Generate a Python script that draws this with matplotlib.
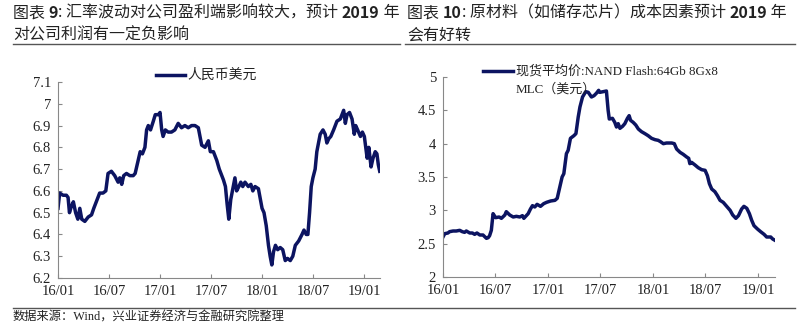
import matplotlib.pyplot as plt
import numpy as np
import pandas as pd
from matplotlib.lines import Line2D

# 人民币兑美元汇率
fx_dates = [
    '2016-01-01', '2016-01-07', '2016-01-19', '2016-01-31', '2016-02-06', '2016-02-11',
    '2016-02-18', '2016-02-25', '2016-03-04', '2016-03-12', '2016-03-19', '2016-03-26',
    '2016-04-06', '2016-04-18', '2016-04-30', '2016-05-08', '2016-05-17', '2016-05-29',
    '2016-06-10', '2016-06-20', '2016-06-28', '2016-07-10', '2016-07-22', '2016-08-03',
    '2016-08-09', '2016-08-16', '2016-08-23', '2016-09-02', '2016-09-14', '2016-09-26',
    '2016-10-03', '2016-10-14', '2016-10-21', '2016-10-29', '2016-11-07', '2016-11-13',
    '2016-11-19', '2016-11-27', '2016-12-07', '2016-12-14', '2016-12-25', '2016-12-31',
    '2017-01-06', '2017-01-11', '2017-01-19', '2017-01-29', '2017-02-10', '2017-02-22',
    '2017-03-06', '2017-03-18', '2017-03-30', '2017-04-11', '2017-04-23', '2017-05-05',
    '2017-05-17', '2017-05-23', '2017-05-29', '2017-06-10', '2017-06-22', '2017-06-29',
    '2017-07-10', '2017-07-22', '2017-07-31', '2017-08-09', '2017-08-15', '2017-08-22',
    '2017-08-28', '2017-09-03', '2017-09-10', '2017-09-19', '2017-09-25', '2017-10-01',
    '2017-10-09', '2017-10-16', '2017-10-23', '2017-10-31', '2017-11-12', '2017-11-21',
    '2017-11-28', '2017-12-06', '2017-12-18', '2017-12-25', '2017-12-31', '2018-01-07',
    '2018-01-15', '2018-01-23', '2018-01-29', '2018-02-04', '2018-02-10', '2018-02-17',
    '2018-02-25', '2018-03-06', '2018-03-15', '2018-03-24', '2018-04-01', '2018-04-11',
    '2018-04-20', '2018-04-29', '2018-05-11', '2018-05-23', '2018-05-30', '2018-06-07',
    '2018-06-13', '2018-06-19', '2018-06-25', '2018-07-01', '2018-07-09', '2018-07-15',
    '2018-07-21', '2018-07-27', '2018-08-06', '2018-08-14', '2018-08-20', '2018-08-27',
    '2018-09-03', '2018-09-13', '2018-09-25', '2018-10-07', '2018-10-19', '2018-10-25',
    '2018-10-31', '2018-11-09', '2018-11-18', '2018-11-26', '2018-12-01', '2018-12-08',
    '2018-12-18', '2018-12-25', '2019-01-01', '2019-01-06', '2019-01-11', '2019-01-17',
    '2019-01-25', '2019-02-01', '2019-02-09', '2019-02-15', '2019-02-20', '2019-02-25',
]
fx_values = [
    6.52, 6.59, 6.58, 6.58, 6.57, 6.50,
    6.53, 6.55, 6.50, 6.47, 6.52, 6.47,
    6.46, 6.48, 6.49, 6.52, 6.55, 6.59,
    6.59, 6.60, 6.68, 6.69, 6.67, 6.64,
    6.66, 6.63, 6.67, 6.68, 6.67, 6.67,
    6.68, 6.74, 6.78, 6.77, 6.80, 6.88,
    6.90, 6.88, 6.92, 6.95, 6.95, 6.96,
    6.88, 6.85, 6.88, 6.87, 6.87, 6.88,
    6.91, 6.89, 6.90, 6.89, 6.90, 6.90,
    6.89, 6.85, 6.81, 6.80, 6.83, 6.78,
    6.78, 6.74, 6.70, 6.67, 6.65, 6.62,
    6.54, 6.47, 6.56, 6.62, 6.66, 6.60,
    6.62, 6.64, 6.62, 6.64, 6.62, 6.63,
    6.60, 6.62, 6.61, 6.56, 6.52, 6.50,
    6.44, 6.35, 6.30, 6.26, 6.32, 6.35,
    6.33, 6.34, 6.33, 6.28, 6.29, 6.28,
    6.30, 6.35, 6.37, 6.40, 6.42, 6.40,
    6.40, 6.50, 6.62, 6.66, 6.70, 6.78,
    6.82, 6.86, 6.88, 6.86, 6.82, 6.84,
    6.85, 6.88, 6.92, 6.93, 6.97, 6.91,
    6.95, 6.96, 6.93, 6.86, 6.90, 6.88,
    6.85, 6.87, 6.85, 6.80, 6.75, 6.80,
    6.71, 6.75, 6.78, 6.77, 6.72, 6.69,
]

# NAND Flash 64Gb 8Gx8 MLC 现货平均价（美元）
nand_dates = [
    '2016-01-01', '2016-01-07', '2016-01-18', '2016-01-24', '2016-02-05', '2016-02-16',
    '2016-02-28', '2016-03-08', '2016-03-16', '2016-03-22', '2016-04-03', '2016-04-12',
    '2016-04-20', '2016-04-28', '2016-05-08', '2016-05-19', '2016-05-31', '2016-06-06',
    '2016-06-11', '2016-06-17', '2016-06-23', '2016-07-02', '2016-07-14', '2016-07-22',
    '2016-08-03', '2016-08-08', '2016-08-20', '2016-09-01', '2016-09-12', '2016-09-24',
    '2016-10-03', '2016-10-08', '2016-10-23', '2016-10-31', '2016-11-07', '2016-11-15',
    '2016-11-23', '2016-12-05', '2016-12-16', '2016-12-26', '2017-01-09', '2017-01-24',
    '2017-02-01', '2017-02-10', '2017-02-18', '2017-02-24', '2017-03-05', '2017-03-11',
    '2017-03-19', '2017-03-31', '2017-04-07', '2017-04-15', '2017-04-21', '2017-04-30',
    '2017-05-11', '2017-05-20', '2017-05-31', '2017-06-09', '2017-06-18', '2017-06-25',
    '2017-06-29', '2017-07-11', '2017-07-22', '2017-07-28', '2017-08-01', '2017-08-12',
    '2017-08-20', '2017-08-26', '2017-09-01', '2017-09-07', '2017-09-16', '2017-09-24',
    '2017-10-03', '2017-10-09', '2017-10-14', '2017-10-23', '2017-11-01', '2017-11-10',
    '2017-11-21', '2017-12-03', '2017-12-14', '2017-12-26', '2018-01-07', '2018-01-18',
    '2018-01-26', '2018-02-05', '2018-02-16', '2018-03-06', '2018-03-15', '2018-03-23',
    '2018-04-04', '2018-04-15', '2018-04-27', '2018-05-04', '2018-05-08', '2018-05-14',
    '2018-05-26', '2018-06-06', '2018-06-18', '2018-06-30', '2018-07-08', '2018-07-15',
    '2018-07-23', '2018-08-03', '2018-08-12', '2018-08-21', '2018-09-01', '2018-09-13',
    '2018-09-25', '2018-10-04', '2018-10-15', '2018-10-24', '2018-11-04', '2018-11-12',
    '2018-11-22', '2018-12-01', '2018-12-09', '2018-12-17', '2018-12-29', '2019-01-09',
    '2019-01-21', '2019-01-30', '2019-02-13', '2019-02-20', '2019-02-28',
]
nand_values = [
    2.60, 2.65, 2.66, 2.68, 2.69, 2.69,
    2.70, 2.68, 2.67, 2.69, 2.66, 2.66,
    2.64, 2.66, 2.63, 2.63, 2.58, 2.59,
    2.62, 2.70, 2.95, 2.89, 2.90, 2.88,
    2.93, 2.98, 2.93, 2.90, 2.91, 2.90,
    2.92, 2.88, 2.95, 3.02, 3.07, 3.05,
    3.09, 3.06, 3.10, 3.12, 3.14, 3.15,
    3.18, 3.35, 3.50, 3.55, 3.85, 3.90,
    4.08, 4.12, 4.15, 4.40, 4.55, 4.70,
    4.78, 4.77, 4.70, 4.72, 4.76, 4.80,
    4.77, 4.78, 4.79, 4.50, 4.37, 4.38,
    4.32, 4.25, 4.30, 4.23, 4.26, 4.30,
    4.38, 4.42, 4.35, 4.32, 4.28, 4.22,
    4.18, 4.15, 4.12, 4.08, 4.06, 4.05,
    4.03, 4.00, 4.01, 4.01, 4.00, 3.92,
    3.87, 3.84, 3.80, 3.78, 3.70, 3.72,
    3.68, 3.64, 3.61, 3.60, 3.52, 3.40,
    3.32, 3.28, 3.22, 3.15, 3.12, 3.06,
    3.00, 2.93, 2.88, 2.92, 3.02, 3.06,
    3.03, 2.95, 2.85, 2.77, 2.72, 2.68,
    2.64, 2.60, 2.60, 2.57, 2.55,
]

tick_dates = ['2016-01-01', '2016-07-01', '2017-01-01', '2017-07-01',
              '2018-01-01', '2018-07-01', '2019-01-01']
tick_labels = ['16/01', '16/07', '17/01', '17/07', '18/01', '18/07', '19/01']

line_color = '#0c1461'
text_color = '#222222'
serif = ['Liberation Serif', 'Noto Sans CJK SC']
cjk = ['Noto Sans CJK SC', 'DejaVu Sans']
lw = 2.5

plt.rcParams['font.family'] = cjk

fig = plt.figure(figsize=(8, 3.26), dpi=100)
W, H = 800, 326


def fx_(px):
    return px / W


def fy_(py):
    return 1 - py / H


def style_axes(ax, xmax):
    ax.set_xlim(pd.Timestamp('2016-01-01'), pd.Timestamp(xmax))
    ax.set_xticks(pd.to_datetime(tick_dates))
    ax.set_xticklabels(tick_labels)
    for s in ['top', 'right']:
        ax.spines[s].set_visible(False)
    for s in ['left', 'bottom']:
        ax.spines[s].set_color('#888888')
        ax.spines[s].set_linewidth(0.8)
    ax.tick_params(direction='in', length=3, color='#888888', width=0.8,
                   labelsize=10.5, labelcolor=text_color, pad=5)
    for lab in ax.get_xticklabels() + ax.get_yticklabels():
        lab.set_family(serif)


# 左图：汇率
ax1 = fig.add_axes([fx_(58), fy_(278), fx_(380) - fx_(58), fy_(82) - fy_(278)])
ax1.plot(pd.to_datetime(fx_dates), fx_values, color=line_color, lw=lw,
         solid_joinstyle='round')
ax1.set_ylim(6.2, 7.1)
ax1.set_yticks(np.round(np.arange(6.2, 7.11, 0.1), 1))
ax1.set_yticklabels(['6.2', '6.3', '6.4', '6.5', '6.6', '6.7', '6.8', '6.9', '7', '7.1'])
style_axes(ax1, '2019-02-26')

# 图例（手工绘制）
fig.add_artist(Line2D([fx_(156), fx_(185)], [fy_(75)] * 2, color=line_color, lw=lw))
fig.text(fx_(187), fy_(75), '人民币美元', family=cjk, fontsize=10,
         color=text_color, va='center')

# 右图：NAND 现货价
ax2 = fig.add_axes([fx_(443), fy_(277), fx_(775) - fx_(443), fy_(77) - fy_(277)])
ax2.plot(pd.to_datetime(nand_dates), nand_values, color=line_color, lw=lw,
         solid_joinstyle='round')
ax2.set_ylim(2, 5)
ax2.set_yticks([2, 2.5, 3, 3.5, 4, 4.5, 5])
ax2.set_yticklabels(['2', '2.5', '3', '3.5', '4', '4.5', '5'])
style_axes(ax2, '2019-02-28')
fig.add_artist(Line2D([fx_(483), fx_(513)], [fy_(71)] * 2, color=line_color, lw=lw))
fig.text(fx_(516), fy_(71), '现货平均价:NAND Flash:64Gb 8Gx8',
         family=serif, fontsize=9.4, color=text_color, va='center')
fig.text(fx_(516), fy_(89), 'MLC（美元）',
         family=serif, fontsize=9.4, color=text_color, va='center')


# 标题：逐段绘制，数字部分加粗
def draw_segments(x, y, segments, size=11.5):
    renderer = fig.canvas.get_renderer()
    for s, bold in segments:
        t = fig.text(x, y, s, fontsize=size, color=text_color, va='center',
                     fontweight='bold' if bold else 'normal', family=cjk)
        bb = t.get_window_extent(renderer=renderer)
        x += bb.width / fig.bbox.width


draw_segments(fx_(13), fy_(13),
              [('图表 ', False), ('9', True), (': 汇率波动对公司盈利端影响较大，预计 ', False),
               ('2019', True), (' 年', False)])
draw_segments(fx_(13), fy_(35), [('对公司利润有一定负影响', False)])
draw_segments(fx_(407), fy_(13),
              [('图表 ', False), ('10', True), (': 原材料（如储存芯片）成本因素预计 ', False),
               ('2019', True), (' 年', False)])
draw_segments(fx_(407), fy_(35), [('会有好转', False)])

# 标题下横线与底部分隔线
fig.add_artist(Line2D([fx_(13), fx_(400)], [fy_(44)] * 2, color='#555555', lw=1))
fig.add_artist(Line2D([fx_(405), fx_(795)], [fy_(44)] * 2, color='#555555', lw=1))
fig.add_artist(Line2D([fx_(13), fx_(795)], [fy_(308)] * 2, color='#555555', lw=1))

fig.text(fx_(13), fy_(318), '数据来源：Wind，兴业证券经济与金融研究院整理',
         family=serif, fontsize=8.8, color=text_color, va='center')

fig.savefig('out.png', dpi=100)
